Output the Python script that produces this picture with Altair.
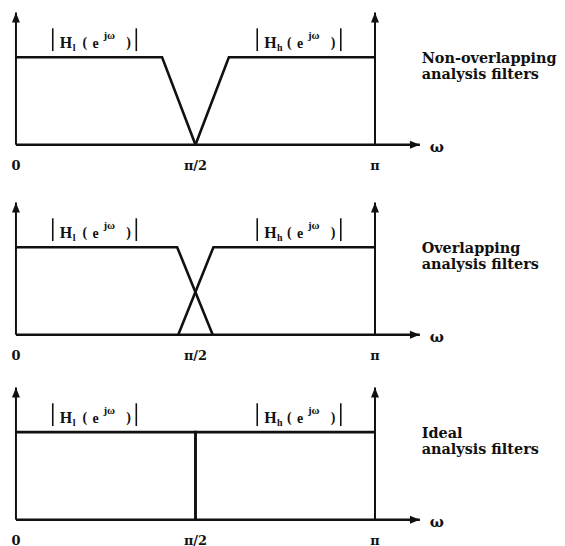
import altair as alt
import pandas as pd

INK = "#111111"
SERIF = "DejaVu Serif"
LSERIF = "Liberation Serif"

# ---- data (frequency in units of pi, magnitude normalised to passband = 1) ----
panel_names = ["Non-overlapping", "Overlapping", "Ideal"]
desc_line2 = ["analysis filters", "analysis filters", "analysis filters"]

low_w = [[0.0, 0.407, 0.5], [0.0, 0.449, 0.548], [0.0, 0.5, 0.5]]
low_mag = [[1, 1, 0], [1, 1, 0], [1, 1, 0]]
high_w = [[0.5, 0.593, 1.0], [0.452, 0.55, 1.0], [0.5, 0.5, 1.0]]
high_mag = [[0, 1, 1], [0, 1, 1], [0, 1, 1]]

tick_pos = [0.0, 0.5, 1.0]
tick_text = ["0", "\u03c0/2", "\u03c0"]

axis_top = 1.511      # top of vertical arrows (magnitude units)
axis_end = 1.125      # tip of omega arrow (units of pi)
omega_pos = 1.172
desc_pos = 1.13

label_x = [0.1025, 0.672]
label_sub = ["l", "h"]

# ---- layout ----
PX_X = 361.0
PX_Y = 88.0
W = 549
heights = [191, 186, 150]
xs = alt.Scale(domain=[-8 / PX_X, (W - 8) / PX_X], nice=False, zero=False)


def panel(i, h):
    ys = alt.Scale(domain=[136 / PX_Y - h / PX_Y, 136 / PX_Y], nice=False, zero=False)
    X = lambda f: alt.X(f, type="quantitative", scale=xs, axis=None)
    Y = lambda f: alt.Y(f, type="quantitative", scale=ys, axis=None)

    rows = []
    for name, ws, ms in (("low", low_w[i], low_mag[i]), ("high", high_w[i], high_mag[i])):
        for k, (w, m) in enumerate(zip(ws, ms)):
            rows.append({"filter": name, "k": k, "w": w, "m": m})
    fdf = pd.DataFrame(rows)
    filters = alt.Chart(fdf).mark_line(color=INK, strokeWidth=2.6, strokeJoin="miter").encode(
        x=X("w"), y=Y("m"), detail="filter:N", order="k:Q")

    vaxes = alt.Chart(pd.DataFrame({"x": [0.0, 1.0], "y": [0.0, 0.0], "y2": [axis_top, axis_top]})).mark_rule(
        color=INK, strokeWidth=2).encode(x=X("x"), y=Y("y"), y2="y2")
    base = alt.Chart(pd.DataFrame({"x": [0.0], "x2": [axis_end], "y": [0.0]})).mark_rule(
        color=INK, strokeWidth=2.6).encode(x=X("x"), x2="x2", y=Y("y"))

    up = alt.Chart(pd.DataFrame({"x": [0.0, 1.0], "y": [axis_top, axis_top]})).mark_point(
        shape="M0,0L0.8,2L-0.8,2Z", filled=True, opacity=1, size=100, color=INK, strokeWidth=0).encode(
        x=X("x"), y=Y("y"))
    right = alt.Chart(pd.DataFrame({"x": [axis_end], "y": [0.0]})).mark_point(
        shape="M0,0L-2,-0.8L-2,0.8Z", filled=True, opacity=1, size=100, color=INK, strokeWidth=0).encode(
        x=X("x"), y=Y("y"))

    ticks = alt.Chart(pd.DataFrame({"x": tick_pos, "t": tick_text})).mark_text(
        font=SERIF, fontWeight="bold", fontSize=13, color=INK, dy=21, baseline="middle").encode(
        x=X("x"), y=alt.datum(0.0), text="t:N")
    omega = alt.Chart(pd.DataFrame({"x": [omega_pos], "t": ["\u03c9"]})).mark_text(
        font=SERIF, fontWeight="bold", fontSize=15, color=INK, dy=2, baseline="middle").encode(
        x=X("x"), y=alt.datum(0.0), text="t:N")

    ddf = pd.DataFrame({"x": [desc_pos], "a": [panel_names[i]], "b": [desc_line2[i]]})
    d1 = alt.Chart(ddf).mark_text(font=SERIF, fontWeight="bold", fontSize=14.5, color=INK, align="left",
                                  baseline="middle", dy=2).encode(x=X("x"), y=alt.datum(1.0), text="a:N")
    d2 = alt.Chart(ddf).mark_text(font=SERIF, fontWeight="bold", fontSize=14.5, color=INK, align="left",
                                  baseline="middle", dy=18).encode(x=X("x"), y=alt.datum(1.0), text="b:N")

    ldf = pd.DataFrame({"x": label_x, "sub": label_sub})
    bars = [alt.Chart(ldf).mark_rule(color=INK, strokeWidth=1.6, xOffset=off).encode(
        x=X("x"), y=alt.datum(1.07), y2=alt.datum(1.33)) for off in (0, 84)]
    pieces = [("H", 7, -9, 16, None), (None, 20, -6, 10, "sub"), ("(", 30, -10, 14, None),
              ("e", 40, -9, 14, None), ("j\u03c9", 51, -18, 11, None), (")", 74, -10, 14, None)]
    labs = []
    for txt, dx, dy, fs, field in pieces:
        enc = dict(x=X("x"), y=alt.datum(1.0))
        enc["text"] = alt.Text(f"{field}:N") if field else alt.value(txt)
        labs.append(alt.Chart(ldf).mark_text(font=LSERIF, fontWeight="bold", fontSize=fs, color=INK,
                                             align="left", baseline="alphabetic", dx=dx, dy=dy).encode(**enc))

    return alt.layer(vaxes, base, filters, up, right, ticks, omega, d1, d2, *bars, *labs).properties(
        width=W, height=h)


chart = alt.vconcat(*[panel(i, h) for i, h in enumerate(heights)], spacing=0, bounds="flush").properties(
    padding=0).configure_view(stroke=None)

chart.save("out.html", embed_options={"renderer": "svg", "actions": False})
